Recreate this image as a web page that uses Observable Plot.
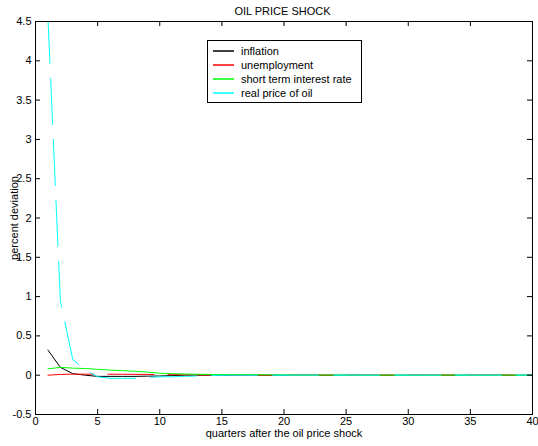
<!DOCTYPE html>
<html>
<head>
<meta charset="utf-8">
<script src="https://cdn.jsdelivr.net/npm/d3@7"></script>
<script src="https://cdn.jsdelivr.net/npm/@observablehq/plot@0.6"></script>
<style>
  body { margin: 0; background: #fff; font-family: "Liberation Sans", Arial, sans-serif; }
  #wrap { position: relative; width: 538px; height: 446px; background: #fff; }
  #title { position: absolute; left: 0; top: 0; width: 538px; height: 20px; line-height: 22px; font-size: 11px; text-align: center; padding-left: 27px; box-sizing: border-box; color: #000; white-space: nowrap; }
  #legend { position: absolute; left: 207px; top: 40px; width: 153px; padding-top: 3px; padding-bottom: 2px; border: 1px solid #000; background: #fff; font-size: 11px; color: #000; }
  .row { display: flex; align-items: center; height: 14px; }
  .row svg { flex: none; margin-left: 5px; margin-right: 7px; }
  #chart svg { display: block; }
</style>
</head>
<body>
<div id="wrap">
  <div id="chart"></div>
  <div id="title"></div>
  <div id="legend"></div>
</div>
<script>
const title = "OIL PRICE SHOCK";
const xLabel = "quarters after the oil price shock";
const yLabel = "percent deviation";

const quarters = [1,2,3,4,5,6,7,8,9,10,11,12,13,14,15,16,17,18,19,20,21,22,23,24,25,26,27,28,29,30,31,32,33,34,35,36,37,38,39,40];

const inflation = [0.32,0.10,0.02,0.00,-0.015,-0.015,-0.015,-0.015,-0.012,-0.010,-0.005,0.000,0,0,0,0,0,0,0,0,0,0,0,0,0,0,0,0,0,0,0,0,0,0,0,0,0,0,0,0];
const unemployment = [0.00,0.010,0.013,0.013,0.012,0.012,0.012,0.011,0.010,0.008,0.006,0.005,0.004,0.003,0.002,0.001,0,0,0,0,0,0,0,0,0,0,0,0,0,0,0,0,0,0,0,0,0,0,0,0];
const interestRate = [0.08,0.10,0.09,0.085,0.075,0.065,0.058,0.050,0.040,0.025,0.020,0.015,0.012,0.010,0.008,0.007,0.006,0.005,0.004,0.004,0.003,0.003,0.002,0.002,0.002,0.001,0.001,0.001,0.001,0.001,0.001,0.001,0.001,0.001,0.001,0.001,0.001,0.001,0.001,0.001];
const oilPrice = [4.55,0.95,0.20,0.07,-0.02,-0.04,-0.04,-0.04,-0.03,-0.02,-0.02,-0.015,-0.01,-0.005,0,0,0,0,0,0,0,0,0,0,0,0,0,0,0,0,0,0,0,0,0,0,0,0,0,0];

const seriesNames = ["inflation", "unemployment", "short term interest rate", "real price of oil"];
const seriesColors = ["#000000", "#ff0000", "#00ff00", "#00ffff"];
const seriesDash = [null, "46,14", null, "46,15"];
const seriesValues = [inflation, unemployment, interestRate, oilPrice];

const xTicks = [0,5,10,15,20,25,30,35,40];
const yTicks = [-0.5,0,0.5,1,1.5,2,2.5,3,3.5,4,4.5];

document.getElementById("title").textContent = title;

const W = 538, H = 446, mL = 35, mR = 6, mT = 21, mB = 32;
const innerW = W - mL - mR, innerH = H - mT - mB;

const lineMarks = seriesValues.map((vals, s) =>
  Plot.line(quarters.map((q, i) => ({q, v: vals[i]})), {
    x: "q", y: "v", stroke: seriesColors[s], strokeWidth: 1,
    strokeDasharray: seriesDash[s] || undefined, clip: true
  })
);

const fmt = d => String(d);

const chart = Plot.plot({
  width: W, height: H,
  marginLeft: mL, marginRight: mR, marginTop: mT, marginBottom: mB,
  x: {domain: [0, 40]},
  y: {domain: [-0.5, 4.5]},
  style: {fontFamily: "Liberation Sans, Arial, sans-serif", fontSize: "11px", color: "#000", background: "#fff"},
  marks: [
    ...lineMarks,
    Plot.frame({stroke: "#000"}),
    Plot.tickX(xTicks, {x: d => d, insetTop: innerH - 5, stroke: "#000"}),
    Plot.tickX(xTicks, {x: d => d, insetBottom: innerH - 5, stroke: "#000"}),
    Plot.tickY(yTicks, {y: d => d, insetRight: innerW - 5, stroke: "#000"}),
    Plot.tickY(yTicks, {y: d => d, insetLeft: innerW - 5, stroke: "#000"}),
    Plot.axisX(xTicks, {tickSize: 0, tickPadding: 3, label: null, tickFormat: fmt}),
    Plot.axisY(yTicks, {tickSize: 0, tickPadding: 4, label: null, tickFormat: fmt}),
    Plot.text([xLabel], {frameAnchor: "bottom", dy: 19, text: d => d, textAnchor: "middle", lineAnchor: "middle", fill: "#000"}),
    Plot.text([yLabel], {frameAnchor: "left", dx: -21, rotate: -90, text: d => d, textAnchor: "middle", lineAnchor: "middle", fill: "#000"})
  ]
});
document.getElementById("chart").appendChild(chart);

const NS = "http://www.w3.org/2000/svg";
const legend = document.getElementById("legend");
seriesNames.forEach((name, i) => {
  const row = document.createElement("div");
  row.className = "row";
  const sv = document.createElementNS(NS, "svg");
  sv.setAttribute("width", "21");
  sv.setAttribute("height", "4");
  const ln = document.createElementNS(NS, "line");
  ln.setAttribute("x1", "0"); ln.setAttribute("x2", "21");
  ln.setAttribute("y1", "2"); ln.setAttribute("y2", "2");
  ln.setAttribute("stroke", seriesColors[i]);
  ln.setAttribute("stroke-width", "1.5");
  sv.appendChild(ln);
  const tx = document.createElement("span");
  tx.textContent = name;
  row.appendChild(sv);
  row.appendChild(tx);
  legend.appendChild(row);
});
</script>
</body>
</html>
